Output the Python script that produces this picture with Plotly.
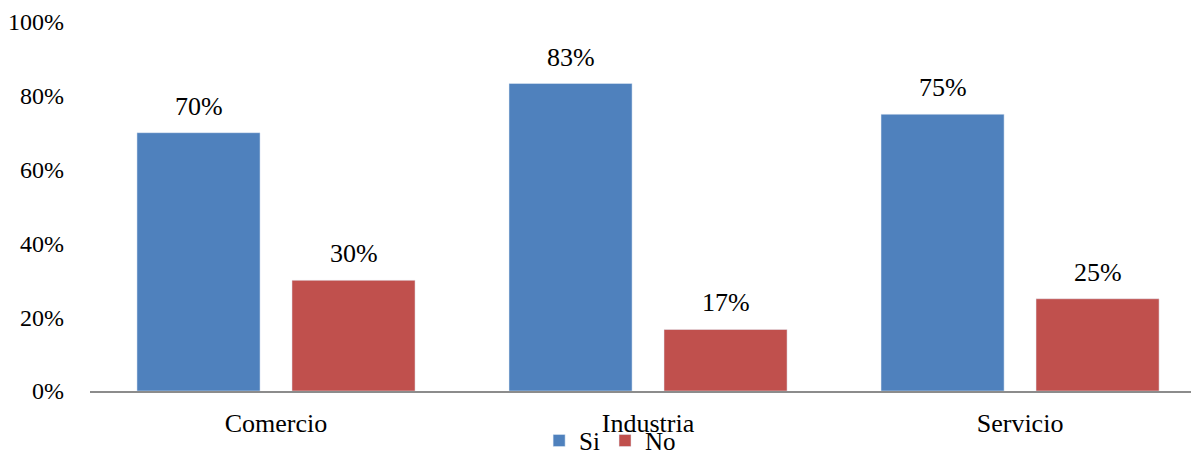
import plotly.graph_objects as go

categories = ["Comercio", "Industria", "Servicio"]
si_values = [0.70, 0.8333, 0.75]
no_values = [0.30, 0.1667, 0.25]
si_labels = ["70%", "83%", "75%"]
no_labels = ["30%", "17%", "25%"]
y_ticks = [0, 0.2, 0.4, 0.6, 0.8, 1.0]
y_tick_labels = ["0%", "20%", "40%", "60%", "80%", "100%"]

FONT = "Liberation Serif"
FS = 26

fig = go.Figure()
fig.add_trace(go.Bar(name="Si", x=categories, y=si_values, marker_color="#4F81BD"))
fig.add_trace(go.Bar(name="No", x=categories, y=no_values, marker_color="#C0504D"))

annotations = []
for cat, v, lab in zip(categories, si_values, si_labels):
    annotations.append(dict(x=cat, y=v, text=lab, showarrow=False, xshift=-77.5,
                            yanchor="bottom", yshift=10, font=dict(family=FONT, size=FS, color="black")))
for cat, v, lab in zip(categories, no_values, no_labels):
    annotations.append(dict(x=cat, y=v, text=lab, showarrow=False, xshift=77.5,
                            yanchor="bottom", yshift=10, font=dict(family=FONT, size=FS, color="black")))

fig.update_layout(
    width=1191, height=448,
    margin=dict(l=82, r=0, t=14, b=65, autoexpand=False),
    paper_bgcolor="white", plot_bgcolor="white",
    barmode="group", bargap=0.1667, bargroupgap=0.206,
    font=dict(family=FONT, size=FS, color="black"),
    annotations=annotations,
    showlegend=True,
    legend=dict(orientation="h", x=0.469, xanchor="center", yref="container", y=0.034,
                yanchor="middle", font=dict(family=FONT, size=25, color="black"), itemwidth=30,
                tracegroupgap=0, bgcolor="rgba(0,0,0,0)"),
    xaxis=dict(range=[-0.5, 2.481], showline=True, linecolor="#8C8C8C", linewidth=2,
               ticks="", showgrid=False, ticklabelstandoff=8, automargin=False,
               tickfont=dict(family=FONT, size=FS, color="black")),
    yaxis=dict(range=[0, 1.0], tickvals=y_ticks, ticktext=y_tick_labels, showgrid=False,
               zeroline=False, showline=False, ticks="", ticklabelstandoff=25, automargin=False,
               tickfont=dict(family=FONT, size=24, color="black")),
)

fig.write_html("out.html")
